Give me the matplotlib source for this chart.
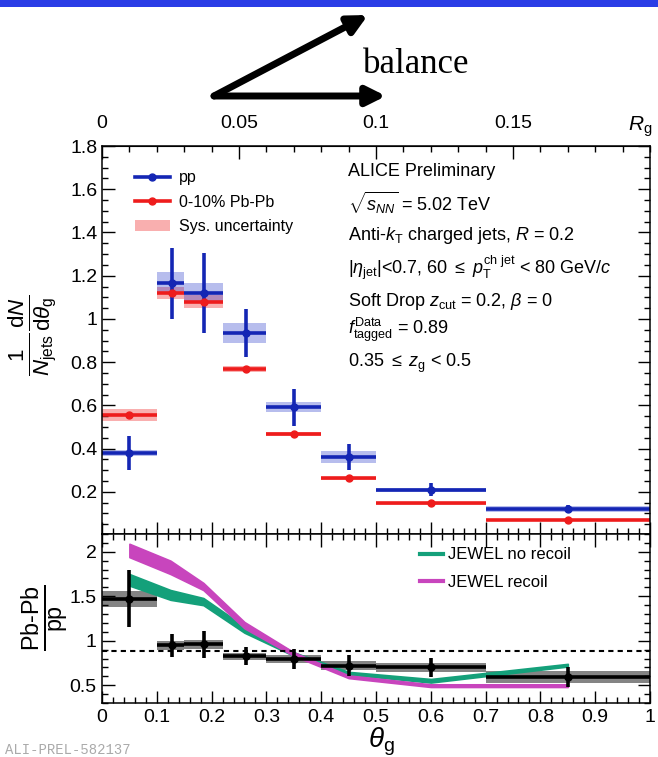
import numpy as np
import matplotlib
matplotlib.use('Agg')
import matplotlib.pyplot as plt
from matplotlib.ticker import MultipleLocator, FormatStrFormatter
from matplotlib.lines import Line2D
from matplotlib.patches import Patch, Rectangle

plt.rcParams['font.family'] = ['Liberation Sans', 'DejaVu Sans']
plt.rcParams['mathtext.fontset'] = 'custom'
plt.rcParams['mathtext.rm'] = 'Liberation Sans'
plt.rcParams['mathtext.it'] = 'Liberation Sans:italic'
plt.rcParams['mathtext.bf'] = 'Liberation Sans:bold'

# theta_g binning and bin centres
edges = np.array([0.0, 0.1, 0.15, 0.22, 0.3, 0.4, 0.5, 0.7, 1.0])
centres = np.array([0.05, 0.128, 0.186, 0.262, 0.35, 0.45, 0.6, 0.85])

# 1/N dN/dtheta_g
pp_val = np.array([0.38, 1.165, 1.122, 0.934, 0.591, 0.36, 0.21, 0.121])
pp_stat = np.array([0.08, 0.165, 0.185, 0.11, 0.086, 0.06, 0.03, 0.02])
pp_sys = np.array([0.012, 0.05, 0.046, 0.046, 0.023, 0.027, 0.01, 0.012])
pb_val = np.array([0.556, 1.119, 1.08, 0.769, 0.469, 0.263, 0.147, 0.071])
pb_stat = np.array([0.01, 0.01, 0.01, 0.008, 0.006, 0.005, 0.004, 0.003])
pb_sys = np.array([0.027, 0.027, 0.03, 0.015, 0.01, 0.008, 0.006, 0.005])

# Pb-Pb / pp
ratio_val = np.array([1.47, 0.95, 0.96, 0.825, 0.795, 0.72, 0.70, 0.59])
ratio_stat = np.array([0.32, 0.13, 0.15, 0.10, 0.11, 0.12, 0.11, 0.11])
ratio_sys = np.array([0.09, 0.05, 0.05, 0.04, 0.04, 0.05, 0.05, 0.07])
ftagged = 0.88

# JEWEL bands
jewel_x = np.array([0.05, 0.125, 0.185, 0.26, 0.35, 0.45, 0.6, 0.85])
norec_hi = np.array([1.75, 1.57, 1.48, 1.16, 0.87, 0.65, 0.57, 0.74])
norec_lo = np.array([1.62, 1.46, 1.40, 1.09, 0.83, 0.62, 0.53, 0.71])
rec_hi = np.array([2.09, 1.90, 1.65, 1.21, 0.87, 0.61, 0.51, 0.51])
rec_lo = np.array([1.94, 1.75, 1.57, 1.14, 0.83, 0.58, 0.48, 0.48])

c_pp = '#1426b4'
c_pb = '#ee1c1c'
c_green = '#14a07a'
c_mag = '#c845bd'

W, H = 658, 757
fig = plt.figure(figsize=(W / 100, H / 100), dpi=100)

def fr(x0, y0, x1, y1):
    # pixel box -> figure rect
    return [x0 / W, 1 - y1 / H, (x1 - x0) / W, (y1 - y0) / H]

ax = fig.add_axes(fr(102, 146, 650, 534))
rax = fig.add_axes(fr(102, 534, 650, 703), sharex=ax)

lo = edges[:-1]
widths = np.diff(edges)

# systematic boxes
ax.bar(lo, 2 * pb_sys, bottom=pb_val - pb_sys, width=widths, align='edge',
       color=c_pb, alpha=0.35, lw=0)
ax.bar(lo, 2 * pp_sys, bottom=pp_val - pp_sys, width=widths, align='edge',
       color='#3344cc', alpha=0.35, lw=0)
xerr = [centres - lo, edges[1:] - centres]
ax.errorbar(centres, pb_val, yerr=pb_stat, xerr=xerr, fmt='o', color=c_pb,
            ms=5, elinewidth=2.6, capsize=0)
ax.errorbar(centres, pp_val, yerr=pp_stat, xerr=xerr, fmt='o', color=c_pp,
            ms=5, elinewidth=2.6, capsize=0)

ax.set_xlim(0, 1)
ax.set_ylim(0.005, 1.8)
ax.yaxis.set_major_locator(MultipleLocator(0.2))
ax.yaxis.set_minor_locator(MultipleLocator(0.05))
ax.yaxis.set_major_formatter(FormatStrFormatter('%g'))
ax.xaxis.set_major_locator(MultipleLocator(0.1))
ax.xaxis.set_minor_locator(MultipleLocator(0.02))
ax.tick_params(which='both', direction='in', right=True, top=False,
               labelbottom=False, labelsize=14, pad=3, width=1)
ax.tick_params(which='major', length=9)
ax.tick_params(which='minor', length=4.5)

# R_g = R * theta_g on the top axis
sec = ax.secondary_xaxis('top', functions=(lambda t: t * 0.2, lambda r: r / 0.2))
sec.set_xticks([0, 0.05, 0.1, 0.15])
sec.xaxis.set_minor_locator(MultipleLocator(0.01))
sec.xaxis.set_major_formatter(FormatStrFormatter('%g'))
sec.tick_params(which='both', direction='in', labelsize=14, pad=10, width=1)
sec.tick_params(which='major', length=9)
sec.tick_params(which='minor', length=4.5)
fig.text(640 / W, 1 - 127 / H, r'$R_{\mathrm{g}}$', fontsize=15, ha='center', va='center')

handles = [Line2D([], [], color=c_pp, marker='o', ms=5, lw=2.6),
           Line2D([], [], color=c_pb, marker='o', ms=5, lw=2.6),
           Patch(facecolor=c_pb, alpha=0.35, lw=0)]
ax.legend(handles, ['pp', '0-10% Pb-Pb', 'Sys. uncertainty'], loc='upper left',
          bbox_to_anchor=(0.045, 0.958), frameon=False, fontsize=11.5,
          handlelength=2.2, handletextpad=0.55, labelspacing=0.6, borderpad=0)

info = ['ALICE Preliminary',
        r'$\sqrt{s_{NN}}$ = 5.02 TeV',
        r'Anti-$k_{\mathrm{T}}$ charged jets, $R$ = 0.2',
        r'$|\eta_{\mathrm{jet}}|$<0.7, 60 $\leq$ $p_{\mathrm{T}}^{\mathrm{ch\ jet}}$ < 80 GeV/$c$',
        r'Soft Drop $z_{\mathrm{cut}}$ = 0.2, $\beta$ = 0',
        r'$f_{\mathrm{tagged}}^{\mathrm{Data}}$ = 0.89',
        r'0.35 $\leq$ $z_{\mathrm{g}}$ < 0.5']
info_y = [172, 203, 236, 268, 302, 330, 363]
for s, yy in zip(info, info_y):
    fig.text(348 / W, 1 - yy / H, s, fontsize=13, ha='left', va='center')

# ratio panel
rax.bar(lo, 2 * ratio_sys, bottom=ratio_val - ratio_sys, width=widths,
        align='edge', color='#6e6e6e', alpha=0.85, lw=0)
rax.fill_between(jewel_x, norec_lo, norec_hi, color=c_green, lw=1.2, ec=c_green)
rax.fill_between(jewel_x, rec_lo, rec_hi, color=c_mag, lw=1.2, ec=c_mag)
rax.errorbar(centres, ratio_val, yerr=ratio_stat, xerr=xerr, fmt='o', color='k',
             ms=5, elinewidth=2.6, capsize=0)
rax.axhline(ftagged, color='k', ls=(0, (2.5, 2)), lw=1.5)

rax.set_xlim(0, 1)
rax.set_ylim(0.3, 2.2)
rax.xaxis.set_major_locator(MultipleLocator(0.1))
rax.xaxis.set_minor_locator(MultipleLocator(0.02))
rax.xaxis.set_major_formatter(FormatStrFormatter('%g'))
rax.yaxis.set_major_locator(MultipleLocator(0.5))
rax.yaxis.set_minor_locator(MultipleLocator(0.1))
rax.yaxis.set_major_formatter(FormatStrFormatter('%g'))
rax.tick_params(which='both', direction='in', right=True, top=True,
                labelsize=14, pad=4, width=1)
rax.tick_params(which='major', length=9)
rax.tick_params(which='minor', length=4.5)

jh = [Line2D([], [], color=c_green, lw=3), Line2D([], [], color=c_mag, lw=3)]
rax.legend(jh, ['JEWEL no recoil', 'JEWEL recoil'], loc='upper left',
           bbox_to_anchor=(0.565, 0.97), frameon=False, fontsize=12,
           handlelength=1.4, handletextpad=0.3, labelspacing=0.75, borderpad=0)

for a in (ax, rax):
    for sp in a.spines.values():
        sp.set_linewidth(1.1)

fig.text(33 / W, 1 - 335 / H,
         r'$\frac{1}{N_{\mathrm{jets}}}\frac{\mathrm{d}N}{\mathrm{d}\theta_{\mathrm{g}}}$',
         fontsize=23, rotation=90, ha='center', va='center')
fig.text(45 / W, 1 - 618 / H, r'$\frac{\text{Pb-Pb}}{\mathrm{pp}}$',
         fontsize=24, rotation=90, ha='center', va='center')
fig.text(381 / W, 1 - 742 / H, r'$\theta_{\mathrm{g}}$', fontsize=20,
         ha='center', va='center')
fig.text(5 / W, 1 - 750 / H, 'ALI-PREL-582137', fontsize=10, color='#aaaaaa',
         family='Liberation Mono', ha='left', va='center')

# header strip and the balance sketch
fig.add_artist(Rectangle((0, 1 - 7 / H), 1, 7 / H, transform=fig.transFigure,
                         color='#2a3de6', lw=0))
over = fig.add_axes([0, 0, 1, 1], facecolor='none')
over.set_xlim(0, W)
over.set_ylim(H, 0)
over.axis('off')
arrow = dict(arrowstyle='-|>', lw=5, color='k', mutation_scale=28,
             shrinkA=0, shrinkB=0)
over.annotate('', xy=(368, 15), xytext=(214, 96), arrowprops=arrow)
over.annotate('', xy=(386, 96), xytext=(214, 96), arrowprops=arrow)
over.text(363, 73, 'balance', fontsize=25, family='Liberation Serif',
          ha='left', va='baseline')

fig.savefig('out.png', dpi=100)
